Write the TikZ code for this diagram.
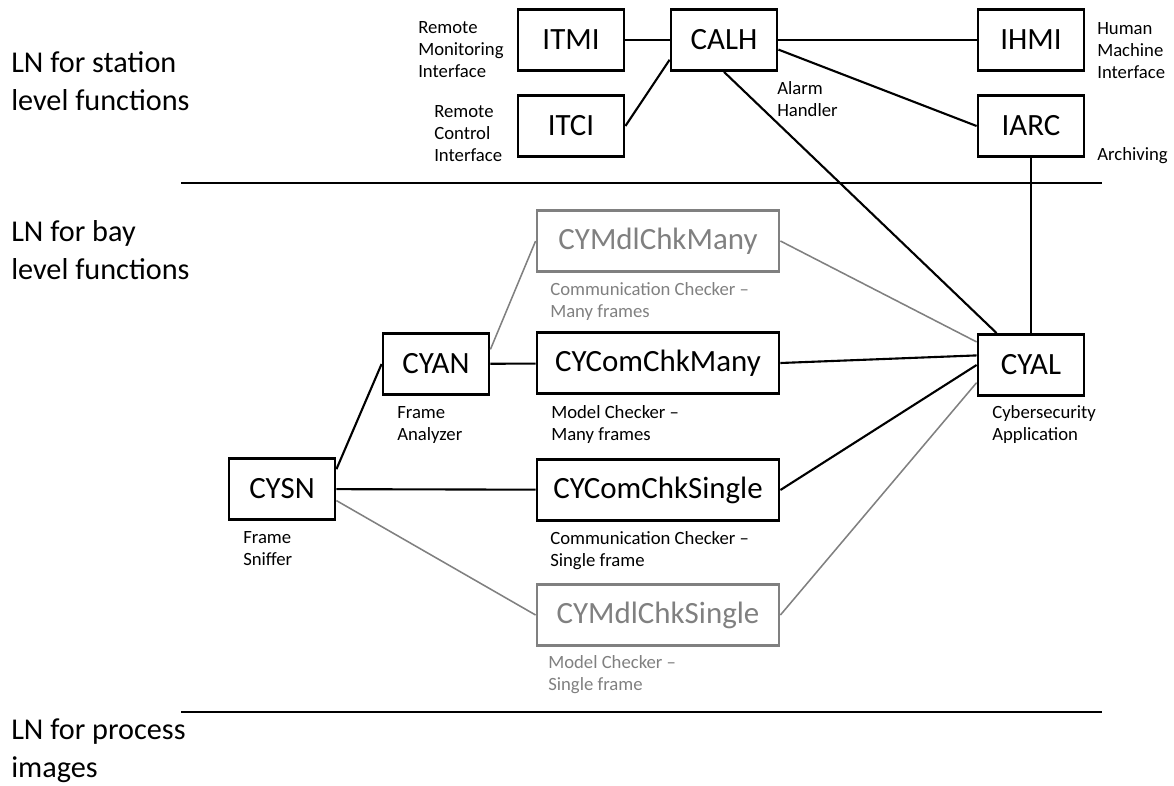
\documentclass[tikz,border=0pt]{standalone}
\usepackage{fontspec}
\setmainfont{Carlito}
\usetikzlibrary{positioning}
\definecolor{lightgrey}{RGB}{128,128,128}

\begin{document}
\begin{tikzpicture}[x=0.25mm,y=-0.25mm,
        box/.style={draw,line width=2pt,inner sep=0pt,minimum height=15.25mm,font=\fontsize{22}{24}\selectfont},
        shortbox/.style={box,minimum width=26.5mm},
        longbox/.style={box,minimum width=60.5mm},
        greybox/.style={longbox,draw=lightgrey,text=lightgrey},
        note/.style={anchor=base west,align=left,inner sep=0pt,font=\fontsize{13.3}{15.5}\selectfont},
        greynote/.style={note,text=lightgrey},
        level/.style={anchor=base west,align=left,inner sep=0pt,font=\fontsize{21.5}{26.5}\selectfont},
        link/.style={line width=1.5pt},
        greylink/.style={line width=1.1pt,draw=lightgrey}]
            \useasboundingbox (0,0) rectangle (1174,785);
            \node[level] (station) at (11,110) {LN for station\\level functions};
            \node[level] (bay) at (11,279) {LN for bay\\level functions};
            \node[level] (process) at (11,777) {LN for process\\images};
            \draw[line width=1.4pt] (181,183) -- (1102,183);
            \draw[line width=1.4pt] (181,712) -- (1102,712);
            \node[shortbox] (itmi) at (571,40) {ITMI};
            \node[shortbox] (itci) at (571,126) {ITCI};
            \node[shortbox] (calh) at (724,40) {CALH};
            \node[shortbox] (ihmi) at (1031,40) {IHMI};
            \node[shortbox] (iarc) at (1031,126) {IARC};
            \node[greybox] (mdlmany) at (658,241) {CYMdlChkMany};
            \node[longbox] (commany) at (658,363) {CYComChkMany};
            \node[longbox] (comsingle) at (658,490) {CYComChkSingle};
            \node[greybox] (mdlsingle) at (658,615) {CYMdlChkSingle};
            \node[shortbox] (cyan) at (436,364) {CYAN};
            \node[shortbox] (cysn) at (282,489) {CYSN};
            \node[shortbox] (cyal) at (1031,365) {CYAL};
            \node[note] (itmilabel) at (418,77) {Remote\\Monitoring\\Interface};
            \node[note] (itcilabel) at (434,161) {Remote\\Control\\Interface};
            \node[note] (calhlabel) at (777,116) {Alarm\\Handler};
            \node[note] (ihmilabel) at (1097,78) {Human\\Machine\\Interface};
            \node[note] (iarclabel) at (1097,160) {Archiving};
            \node[note] (cyallabel) at (992,440) {Cybersecurity\\Application};
            \node[note] (cyanlabel) at (397,440) {Frame\\Analyzer};
            \node[greynote] (mdlmanylabel) at (550,317) {Communication Checker --\\Many frames};
            \node[note] (commanylabel) at (551,440) {Model Checker --\\Many frames};
            \node[note] (comsinglelabel) at (550,566) {Communication Checker --\\Single frame};
            \node[greynote] (mdlsinglelabel) at (548,690) {Model Checker --\\Single frame};
            \node[note] (cysnlabel) at (243,565) {Frame\\Sniffer};
            \draw[link] (itmi) -- (calh);
            \draw[link] (itci.east) -- (calh.200);
            \draw[link] (calh) -- (ihmi);
            \draw[link] (calh.-10) -- (iarc.west);
            \draw[link] (calh.south) -- ([xshift=5mm]cyal.north west);
            \draw[link] (iarc) -- (cyal);
            \draw[greylink] (mdlmany.east) -- (cyal.157);
            \draw[link] (commany.east) -- (cyal.170);
            \draw[link] (comsingle.east) -- (cyal.west);
            \draw[greylink] (mdlsingle.east) -- (cyal.198);
            \draw[link] (cyan) -- (commany);
            \draw[greylink] (cyan.15) -- (mdlmany.west);
            \draw[link] (cysn.20) -- (cyan.west);
            \draw[link] (cysn) -- (comsingle);
            \draw[greylink] (cysn.-12) -- (mdlsingle.west);
\end{tikzpicture}
\end{document}
